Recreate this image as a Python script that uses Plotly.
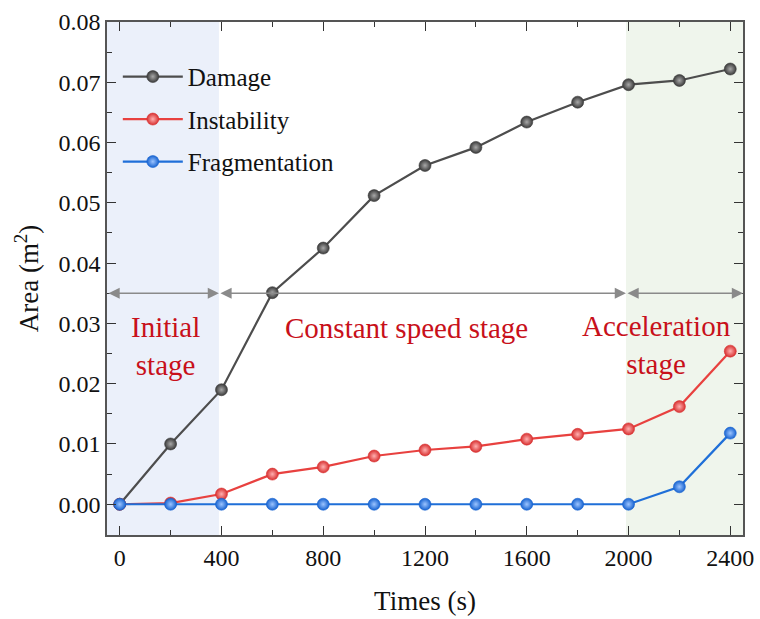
import plotly.graph_objects as go

# Time steps (s) and measured areas (m^2)
times = [0, 200, 400, 600, 800, 1000, 1200, 1400, 1600, 1800, 2000, 2200, 2400]
damage = [0.0, 0.0100, 0.0190, 0.0351, 0.0425, 0.0512, 0.0562, 0.0592, 0.0634,
          0.0667, 0.0696, 0.0703, 0.0722]
instability = [0.0, 0.0002, 0.0017, 0.0050, 0.0062, 0.0080, 0.0090, 0.0096,
               0.0108, 0.0116, 0.0125, 0.0162, 0.0254]
fragmentation = [0.0, 0.0, 0.0, 0.0, 0.0, 0.0, 0.0, 0.0, 0.0, 0.0, 0.0,
                 0.0029, 0.0118]

# Stage boundaries (s) and the level of the stage arrows
stage_bounds = [-50, 390, 1990, 2450]
arrow_level = 0.035
stage_labels = ["Initial<br>stage", "Constant speed stage", "Acceleration<br>stage"]
label_pos = [(179, 0.0262), (1128, 0.0293), (2108, 0.0265)]

FONT = "Liberation Serif, Times New Roman, serif"

series = [
    ("Damage", damage, "#4d4d4d", "#3a3a3a", "#a8a8a8"),
    ("Instability", instability, "#e8413f", "#d83030", "#ffb0b0"),
    ("Fragmentation", fragmentation, "#1f6fd8", "#1763d0", "#9cc4ff"),
]

fig = go.Figure()

for name, vals, lc, mc, hc in series:
    fig.add_trace(go.Scatter(
        x=times, y=vals, name=name, mode="lines+markers",
        legendgroup=name,
        line=dict(color=lc, width=2.2),
        marker=dict(size=12, color=mc, line=dict(width=0.6, color=mc),
                    gradient=dict(type="radial", color=hc)),
    ))

# Shaded stages
fig.add_vrect(x0=stage_bounds[0], x1=stage_bounds[1], fillcolor="#ebf0fa",
              line_width=0, layer="below")
fig.add_vrect(x0=stage_bounds[2], x1=stage_bounds[3], fillcolor="#eff5ec",
              line_width=0, layer="below")

# Double-headed stage arrows
for a, b in zip(stage_bounds[:-1], stage_bounds[1:]):
    fig.add_annotation(
        x=b, y=arrow_level, ax=a, ay=arrow_level, axref="x", ayref="y",
        xref="x", yref="y", text="", showarrow=True,
        arrowhead=2, startarrowhead=2, arrowside="end+start",
        arrowsize=1.4, startarrowsize=1.4, arrowwidth=1.6, arrowcolor="#8a8a8a",
        standoff=0, startstandoff=0,
    )

for txt, (lx, ly) in zip(stage_labels, label_pos):
    fig.add_annotation(x=lx, y=ly, text=txt, showarrow=False,
                       font=dict(family=FONT, size=29, color="#c8101a"))

axis_common = dict(
    showline=True, linecolor="#555555", linewidth=1.5, mirror="ticks",
    ticks="inside", ticklen=9, tickwidth=1.3, tickcolor="#333333",
    showgrid=False, zeroline=False, automargin=False,
    tickfont=dict(family=FONT, size=24, color="#111111"),
)

fig.update_xaxes(
    range=[-50, 2450], tickvals=[0, 400, 800, 1200, 1600, 2000, 2400],
    minor=dict(tickvals=[200, 600, 1000, 1400, 1800, 2200], ticks="inside",
               ticklen=5, tickwidth=1.3, tickcolor="#333333"),
    title=dict(text="Times (s)", font=dict(family=FONT, size=27, color="#111111"),
               standoff=22),
    **axis_common,
)
fig.update_yaxes(
    range=[-0.0051, 0.08], tickvals=[0, 0.01, 0.02, 0.03, 0.04, 0.05, 0.06, 0.07, 0.08],
    tickformat=".2f",
    minor=dict(dtick=0.005, ticks="inside", ticklen=5, tickwidth=1.3,
               tickcolor="#333333"),
    title=dict(text="Area (m<sup>2</sup>)",
               font=dict(family=FONT, size=27, color="#111111"), standoff=12),
    **axis_common,
)

fig.update_layout(
    width=760, height=619,
    margin=dict(l=107, r=17, t=22, b=84),
    paper_bgcolor="white", plot_bgcolor="white",
    showlegend=True,
    legend=dict(x=0.017, y=0.938, xanchor="left", yanchor="top",
                bgcolor="rgba(0,0,0,0)", font=dict(family=FONT, size=25, color="#111111"),
                tracegroupgap=7, itemwidth=60),
)

fig.write_html("out.html")
